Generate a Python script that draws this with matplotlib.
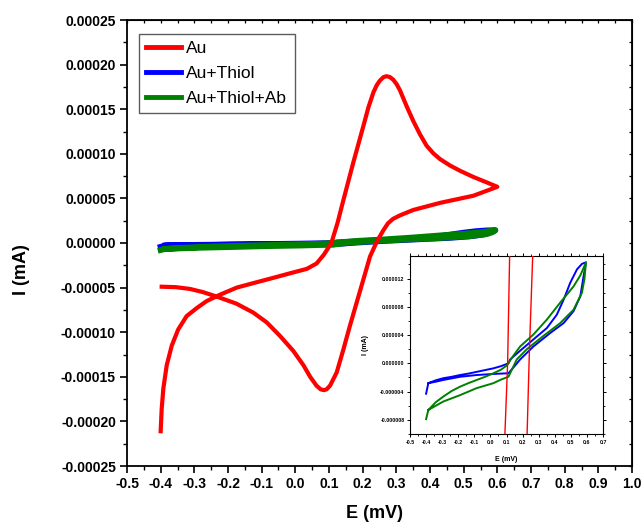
import numpy as np
import matplotlib
matplotlib.use("Agg")
import matplotlib.pyplot as plt
from matplotlib.ticker import MultipleLocator, FuncFormatter

plt.rcParams['font.family'] = ['Liberation Sans', 'DejaVu Sans']

# ---------------- data ----------------
# Au: anodic scan (-0.4 -> 0.6) then cathodic scan (0.6 -> -0.4)
au_anodic_E = [-0.400, -0.397, -0.392, -0.382, -0.367, -0.348, -0.323, -0.293, -0.263, -0.224,
               -0.174, -0.125, -0.065, -0.016, 0.034, 0.063, 0.085, 0.107, 0.125, 0.142,
               0.172, 0.202, 0.217, 0.232, 0.242, 0.251, 0.262, 0.271, 0.281, 0.291,
               0.301, 0.311, 0.331, 0.350, 0.370, 0.390, 0.410, 0.430, 0.459, 0.489,
               0.529, 0.568, 0.600]
au_anodic_I = [-2.11e-4, -1.86e-4, -1.63e-4, -1.37e-4, -1.15e-4, -9.7e-5, -8.2e-5, -7.3e-5, -6.5e-5, -5.8e-5,
               -5.0e-5, -4.5e-5, -3.9e-5, -3.4e-5, -2.9e-5, -2.3e-5, -1.3e-5, 0.0, 2.2e-5, 4.7e-5,
               9.0e-5, 1.31e-4, 1.52e-4, 1.69e-4, 1.77e-4, 1.82e-4, 1.86e-4, 1.87e-4, 1.86e-4, 1.83e-4,
               1.78e-4, 1.71e-4, 1.53e-4, 1.37e-4, 1.22e-4, 1.09e-4, 1.005e-4, 9.4e-5, 8.7e-5, 8.1e-5,
               7.4e-5, 6.8e-5, 6.3e-5]
au_cath_E = [0.600, 0.529, 0.430, 0.350, 0.311, 0.290, 0.275, 0.261, 0.242, 0.222,
             0.202, 0.182, 0.162, 0.143, 0.123, 0.103, 0.093, 0.085, 0.075, 0.063,
             0.044, 0.024, -0.006, -0.046, -0.085, -0.125, -0.175, -0.234, -0.275, -0.313,
             -0.355, -0.397]
au_cath_I = [6.3e-5, 5.3e-5, 4.5e-5, 3.7e-5, 3.1e-5, 2.7e-5, 2.2e-5, 1.4e-5, 1.5e-6, -1.5e-5,
             -4.1e-5, -6.7e-5, -9.3e-5, -1.19e-4, -1.45e-4, -1.60e-4, -1.64e-4, -1.65e-4, -1.64e-4, -1.60e-4,
             -1.50e-4, -1.37e-4, -1.21e-4, -1.04e-4, -8.9e-5, -7.8e-5, -6.8e-5, -6.0e-5, -5.5e-5, -5.15e-5,
             -4.95e-5, -4.9e-5]

# Au+Thiol
thiol_fwd_E = [-0.400, -0.386, -0.340, -0.293, -0.240, -0.189, -0.137, -0.085, -0.033, 0.019,
               0.065, 0.112, 0.123, 0.165, 0.206, 0.268, 0.351, 0.413, 0.455, 0.496, 0.538, 0.570, 0.594]
thiol_fwd_I = [-4.3e-6, -2.8e-6, -2.4e-6, -2.1e-6, -1.9e-6, -1.65e-6, -1.45e-6, -1.2e-6, -0.95e-6, -0.7e-6,
               -0.4e-6, 0.0, 0.56e-6, 1.4e-6, 2.2e-6, 3.4e-6, 5.0e-6, 6.9e-6, 9.0e-6, 11.4e-6, 13.3e-6, 14.1e-6, 14.3e-6]
thiol_rev_E = [0.594, 0.579, 0.559, 0.517, 0.455, 0.372, 0.268, 0.185, 0.150, 0.112,
               0.065, 0.019, -0.085, -0.189, -0.293, -0.340, -0.386]
thiol_rev_I = [14.3e-6, 12.3e-6, 9.5e-6, 7.4e-6, 5.7e-6, 4.3e-6, 2.4e-6, 0.56e-6, -0.4e-6, -1.4e-6,
               -1.45e-6, -1.5e-6, -1.65e-6, -1.9e-6, -2.35e-6, -2.6e-6, -2.8e-6]

# Au+Thiol+Ab
ab_fwd_E = [-0.400, -0.386, -0.340, -0.293, -0.240, -0.189, -0.137, -0.085, -0.033, 0.019,
            0.065, 0.102, 0.140, 0.185, 0.268, 0.351, 0.434, 0.517, 0.560, 0.594]
ab_fwd_I = [-7.9e-6, -6.6e-6, -5.5e-6, -4.7e-6, -3.9e-6, -3.3e-6, -2.8e-6, -2.35e-6, -1.9e-6, -1.4e-6,
            -0.9e-6, -0.3e-6, 1.0e-6, 2.4e-6, 4.1e-6, 6.2e-6, 8.6e-6, 10.9e-6, 12.5e-6, 14.3e-6]
ab_rev_E = [0.594, 0.585, 0.569, 0.517, 0.434, 0.330, 0.226, 0.164, 0.112, 0.065,
            0.019, -0.085, -0.189, -0.293, -0.340, -0.386]
ab_rev_I = [14.3e-6, 12.0e-6, 10.0e-6, 7.6e-6, 5.7e-6, 3.9e-6, 2.0e-6, 0.56e-6, -1.9e-6, -2.3e-6,
            -2.8e-6, -3.5e-6, -4.5e-6, -5.4e-6, -6.0e-6, -6.6e-6]

main_xticks = [-0.5, -0.4, -0.3, -0.2, -0.1, 0.0, 0.1, 0.2, 0.3, 0.4, 0.5, 0.6, 0.7, 0.8, 0.9, 1.0]
main_yticks = [-0.00025, -0.00020, -0.00015, -0.00010, -0.00005, 0.0, 0.00005, 0.00010, 0.00015, 0.00020, 0.00025]
inset_xticks = [-0.5, -0.4, -0.3, -0.2, -0.1, 0.0, 0.1, 0.2, 0.3, 0.4, 0.5, 0.6, 0.7]
inset_yticks = [-0.000008, -0.000004, 0.0, 0.000004, 0.000008, 0.000012]

labels = ["Au", "Au+Thiol", "Au+Thiol+Ab"]
colors = ["#ff0000", "#0000ff", "#008000"]

au_E = au_anodic_E + au_cath_E
au_I = au_anodic_I + au_cath_I
th_E = thiol_fwd_E + thiol_rev_E
th_I = thiol_fwd_I + thiol_rev_I
ab_E = ab_fwd_E + ab_rev_E
ab_I = ab_fwd_I + ab_rev_I


def fmt(decimals):
    def f(v, pos):
        s = f"{v:.{decimals}f}"
        if float(s) == 0:
            s = f"{0:.{decimals}f}"
        return s
    return FuncFormatter(f)

# ---------------- figure ----------------
W, H = 643, 526
fig = plt.figure(figsize=(W / 100, H / 100), dpi=100)
ax = fig.add_axes([127 / W, 1 - 466 / H, 505 / W, 446 / H])

l_th, = ax.plot(th_E, th_I, color=colors[1], lw=4.2, solid_joinstyle='round', zorder=2)
l_ab, = ax.plot(ab_E, ab_I, color=colors[2], lw=4.2, solid_joinstyle='round', zorder=3)
l_au, = ax.plot(au_E, au_I, color=colors[0], lw=3.0, solid_joinstyle='round', zorder=4)

ax.set_xlim(-0.5, 1.0)
ax.set_ylim(-0.00025, 0.00025)
ax.set_xticks(main_xticks)
ax.set_yticks(main_yticks)
ax.xaxis.set_major_formatter(fmt(1))
ax.yaxis.set_major_formatter(fmt(5))
ax.xaxis.set_minor_locator(MultipleLocator(0.05))
ax.yaxis.set_minor_locator(MultipleLocator(0.000025))
ax.tick_params(which='major', direction='out', length=5, width=1.2, labelsize=10, pad=3)
ax.tick_params(which='minor', direction='out', length=3, width=1.0)
for lab in ax.get_xticklabels() + ax.get_yticklabels():
    lab.set_fontweight('bold')
for sp in ax.spines.values():
    sp.set_linewidth(1.3)

# top / right ticks, inward and short
top = ax.secondary_xaxis('top')
top.set_xticks(main_xticks)
top.xaxis.set_minor_locator(MultipleLocator(0.05))
top.tick_params(which='both', direction='in', length=2.5, width=0.9, labeltop=False)
right = ax.secondary_yaxis('right')
right.set_yticks(main_yticks)
right.yaxis.set_minor_locator(MultipleLocator(0.000025))
right.tick_params(which='both', direction='in', length=2.5, width=0.9, labelright=False)

fig.text(375 / W, 1 - 513 / H, "E (mV)", fontsize=13, fontweight='bold', ha='center', va='center')
fig.text(21 / W, 1 - 270 / H, "I (mA)", fontsize=13, fontweight='bold', ha='center', va='center',
         rotation=90)

leg = ax.legend([l_au, l_th, l_ab], labels,
                loc='upper left', bbox_to_anchor=(12 / 505, 1 - 14 / 446), fontsize=12.5,
                frameon=True, fancybox=False, edgecolor='#333333',
                handlelength=2.0, handletextpad=0.3, borderpad=0.42, labelspacing=0.55,
                borderaxespad=0.0)
leg.get_frame().set_linewidth(1.0)
for line in leg.get_lines():
    line.set_linewidth(3.5)

# ---------------- inset ----------------
ins = fig.add_axes([410 / W, 1 - 434 / H, 193 / W, 178 / H])
ins.plot(th_E, th_I, color=colors[1], lw=1.4, zorder=2)
ins.plot(ab_E, ab_I, color=colors[2], lw=1.4, zorder=3)
ins.plot(au_E, au_I, color=colors[0], lw=1.0, zorder=4)
ins.set_xlim(-0.5, 0.7)
ins.set_ylim(-0.00001, 0.0000152)
ins.set_xticks(inset_xticks)
ins.set_yticks(inset_yticks)
ins.xaxis.set_major_formatter(fmt(1))
ins.yaxis.set_major_formatter(fmt(6))
ins.xaxis.set_minor_locator(MultipleLocator(0.05))
ins.yaxis.set_minor_locator(MultipleLocator(0.000002))
ins.tick_params(which='major', direction='out', length=2.5, width=0.7, labelsize=3.8, pad=1.5)
ins.tick_params(which='minor', direction='out', length=1.5, width=0.6)
ins.tick_params(which='both', right=True, top=True)
for lab in ins.get_xticklabels() + ins.get_yticklabels():
    lab.set_fontweight('bold')
for sp in ins.spines.values():
    sp.set_linewidth(0.8)
ins.set_xlabel("E (mV)", fontsize=5, fontweight='bold', labelpad=8)
ins.set_ylabel("I (mA)", fontsize=5, fontweight='bold', labelpad=8)

fig.savefig("out.png", dpi=100)
